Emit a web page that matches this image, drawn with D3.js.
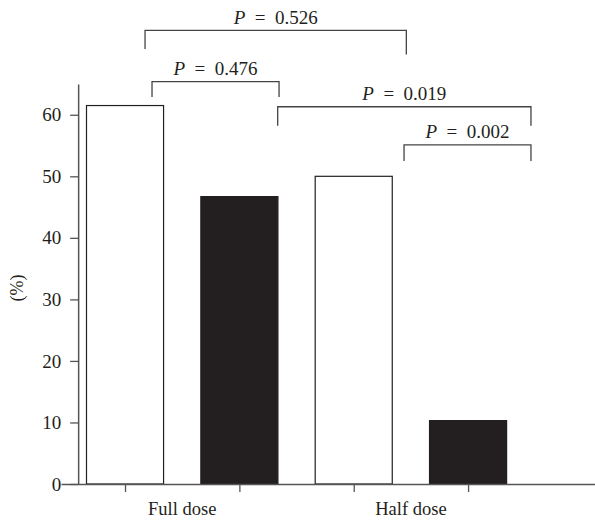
<!DOCTYPE html>
<html><head><meta charset="utf-8">
<script src="https://cdn.jsdelivr.net/npm/d3@7"></script>
<style>body{margin:0;background:#fff}svg{display:block}text{font-family:"Liberation Serif","Times New Roman",serif;fill:#231f20}</style>
</head><body>
<script>
const categories = ["Full dose", "Half dose"];
const barGroups = [0, 0, 1, 1];
const barValues = [61.5, 46.7, 50.0, 10.3];
const barFills = ["#ffffff", "#231f20", "#ffffff", "#231f20"];
const yTicks = [0, 10, 20, 30, 40, 50, 60];
const pLabels = ["0.526", "0.476", "0.019", "0.002"];
const pFrom = [0.175, 0.236, 1.335, 2.44];
const pTo = [2.46, 1.347, 3.55, 3.55];
const pTop = [73.7, 65.4, 61.3, 55.1];
const pLeftEnd = [70.7, 62.9, 58.2, 52.5];
const pRightEnd = [69.8, 62.9, 58.2, 52.5];

const W = 595, H = 522;
const svg = d3.select("body").append("svg").attr("width", W).attr("height", H);
const x = d3.scaleLinear().domain([-0.56, 4.11]).range([61, 595]);
const y = d3.scaleLinear().domain([0, 65]).range([484, 84]);
const half = 0.337;

// bars
svg.selectAll("rect.bar").data(barValues).join("rect")
  .attr("x", (d, i) => x(i - half))
  .attr("width", (d, i) => x(i + half) - x(i - half))
  .attr("y", d => y(d))
  .attr("height", d => y(0) - y(d))
  .attr("fill", (d, i) => barFills[i])
  .attr("stroke", "#231f20").attr("stroke-width", 1.2);

// y axis
const ya = svg.append("g").attr("transform", `translate(${x(-0.41)},0)`)
  .call(d3.axisLeft(y).tickValues(yTicks).tickSize(8).tickSizeOuter(0).tickPadding(9));
ya.select(".domain").attr("stroke", "#555").attr("stroke-width", 1.5);
ya.selectAll(".tick line").attr("stroke", "#555").attr("stroke-width", 1.3);
ya.selectAll(".tick text").style("font-size", "19px").style("font-family", "Liberation Serif, serif").attr("fill", "#231f20");

// x axis
const xa = svg.append("g").attr("transform", `translate(0,${y(0)})`)
  .call(d3.axisBottom(x).tickValues(barValues.map((d, i) => i)).tickSize(8).tickSizeOuter(0).tickFormat(""));
xa.select(".domain").attr("stroke", "#555").attr("stroke-width", 1.5);
xa.selectAll(".tick line").attr("stroke", "#555").attr("stroke-width", 1.3);

// category labels
svg.selectAll("text.cat").data(categories).join("text")
  .attr("class", "cat")
  .attr("x", (d, i) => x(i * 2 + 0.5)).attr("y", 515)
  .attr("text-anchor", "middle").style("font-size", "18.5px").text(d => d);

// y label
svg.append("text").attr("transform", `translate(23,${(y(0) + y(65)) / 2 + 4}) rotate(-90)`)
  .attr("text-anchor", "middle").style("font-size", "18px").text("(%)");

// brackets
pLabels.forEach((p, i) => {
  const path = d3.path();
  path.moveTo(x(pFrom[i]), y(pLeftEnd[i]));
  path.lineTo(x(pFrom[i]), y(pTop[i]));
  path.lineTo(x(pTo[i]), y(pTop[i]));
  path.lineTo(x(pTo[i]), y(pRightEnd[i]));
  svg.append("path").attr("d", path.toString()).attr("fill", "none")
    .attr("stroke", "#444").attr("stroke-width", 1.3);
  const t = svg.append("text").attr("x", (x(pFrom[i]) + x(pTo[i])) / 2)
    .attr("y", y(pTop[i]) - 6.5).attr("text-anchor", "middle").style("font-size", "19px");
  t.append("tspan").style("font-style", "italic").text("P");
  t.append("tspan").text("\u2002=\u2002" + p);
});
</script>
</body></html>
